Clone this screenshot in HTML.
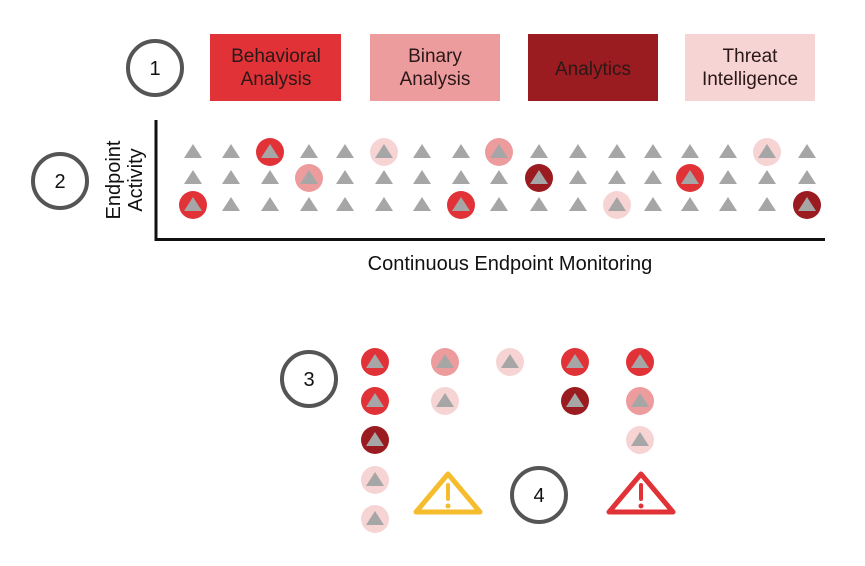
<!DOCTYPE html>
<html><head><meta charset="utf-8"><style>
html,body{margin:0;padding:0;background:#fff;width:865px;height:566px;overflow:hidden}
svg text{font-family:"Liberation Sans",sans-serif}
</style></head><body>
<svg width="865" height="566" viewBox="0 0 865 566" xmlns="http://www.w3.org/2000/svg">
<defs>
<g id="t"><polygon points="0,-8 9,6 -9,6" fill="#a6a6a6"/></g>
<g id="row">
<use href="#t" x="193"/><use href="#t" x="231"/><use href="#t" x="270"/><use href="#t" x="309"/><use href="#t" x="345"/><use href="#t" x="384"/><use href="#t" x="422"/><use href="#t" x="461"/><use href="#t" x="499"/><use href="#t" x="539"/><use href="#t" x="578"/><use href="#t" x="617"/><use href="#t" x="653"/><use href="#t" x="690"/><use href="#t" x="728"/><use href="#t" x="767"/><use href="#t" x="807"/>
</g>
</defs>
<g fill="none" stroke="#555" stroke-width="4">
<circle cx="155" cy="68" r="27"/>
<circle cx="60" cy="181" r="27"/>
<circle cx="309" cy="379" r="27"/>
<circle cx="539" cy="495" r="27"/>
</g>
<g font-size="20" fill="#111" text-anchor="middle">
<text x="155" y="75">1</text>
<text x="60" y="188">2</text>
<text x="309" y="386">3</text>
<text x="539" y="502">4</text>
</g>
<rect x="210" y="34" width="131" height="67" fill="#e03237"/>
<rect x="370" y="34" width="130" height="67" fill="#ed9c9e"/>
<rect x="528" y="34" width="130" height="67" fill="#9b1c20"/>
<rect x="685" y="34" width="130" height="67" fill="#f7d4d4"/>
<g font-size="19" fill="#2a1818" text-anchor="middle">
<text x="276" y="62">Behavioral</text><text x="276" y="85">Analysis</text>
<text x="435" y="62">Binary</text><text x="435" y="85">Analysis</text>
<text x="593" y="75">Analytics</text>
<text x="750" y="62">Threat</text><text x="750" y="85">Intelligence</text>
</g>
<line x1="156" y1="120" x2="156" y2="241" stroke="#111" stroke-width="3"/>
<line x1="155" y1="239.5" x2="825" y2="239.5" stroke="#111" stroke-width="3"/>
<text x="510" y="270" font-size="20" text-anchor="middle" fill="#111">Continuous Endpoint Monitoring</text>
<g transform="translate(120,180) rotate(-90)" font-size="20" fill="#111" text-anchor="middle">
<text x="0" y="0">Endpoint</text><text x="0" y="22">Activity</text>
</g>
<g>
<circle cx="270" cy="152" r="14" fill="#e03237"/>
<circle cx="384" cy="152" r="14" fill="#f7d4d4"/>
<circle cx="499" cy="152" r="14" fill="#ed9c9e"/>
<circle cx="767" cy="152" r="14" fill="#f7d4d4"/>
<circle cx="309" cy="178" r="14" fill="#ed9c9e"/>
<circle cx="539" cy="178" r="14" fill="#9b1c20"/>
<circle cx="690" cy="178" r="14" fill="#e03237"/>
<circle cx="193" cy="205" r="14" fill="#e03237"/>
<circle cx="461" cy="205" r="14" fill="#e03237"/>
<circle cx="617" cy="205" r="14" fill="#f7d4d4"/>
<circle cx="807" cy="205" r="14" fill="#9b1c20"/>
</g>
<use href="#row" y="152"/>
<use href="#row" y="178"/>
<use href="#row" y="205"/>
<g>
<circle cx="375" cy="362" r="14" fill="#e03237"/>
<circle cx="375" cy="401" r="14" fill="#e03237"/>
<circle cx="375" cy="440" r="14" fill="#9b1c20"/>
<circle cx="375" cy="480" r="14" fill="#f7d4d4"/>
<circle cx="375" cy="519" r="14" fill="#f7d4d4"/>
<circle cx="445" cy="362" r="14" fill="#ed9c9e"/>
<circle cx="445" cy="401" r="14" fill="#f7d4d4"/>
<circle cx="510" cy="362" r="14" fill="#f7d4d4"/>
<circle cx="575" cy="362" r="14" fill="#e03237"/>
<circle cx="575" cy="401" r="14" fill="#9b1c20"/>
<circle cx="640" cy="362" r="14" fill="#e03237"/>
<circle cx="640" cy="401" r="14" fill="#ed9c9e"/>
<circle cx="640" cy="440" r="14" fill="#f7d4d4"/>
</g>
<g>
<use href="#t" x="375" y="362"/><use href="#t" x="375" y="401"/><use href="#t" x="375" y="440"/><use href="#t" x="375" y="480"/><use href="#t" x="375" y="519"/>
<use href="#t" x="445" y="362"/><use href="#t" x="445" y="401"/><use href="#t" x="510" y="362"/>
<use href="#t" x="575" y="362"/><use href="#t" x="575" y="401"/>
<use href="#t" x="640" y="362"/><use href="#t" x="640" y="401"/><use href="#t" x="640" y="440"/>
</g>
<g fill="none" stroke-width="5" stroke-linejoin="round">
<path d="M448,474 L480,512 L416,512 Z" stroke="#f5bd2e"/>
<path d="M641,474 L673,512 L609,512 Z" stroke="#e03237"/>
</g>
<g stroke-width="4" stroke-linecap="round">
<line x1="448" y1="485" x2="448" y2="499" stroke="#f5bd2e"/>
<line x1="641" y1="485" x2="641" y2="499" stroke="#e03237"/>
</g>
<circle cx="448" cy="506" r="2.5" fill="#f5bd2e"/>
<circle cx="641" cy="506" r="2.5" fill="#e03237"/>
</svg>
</body></html>
